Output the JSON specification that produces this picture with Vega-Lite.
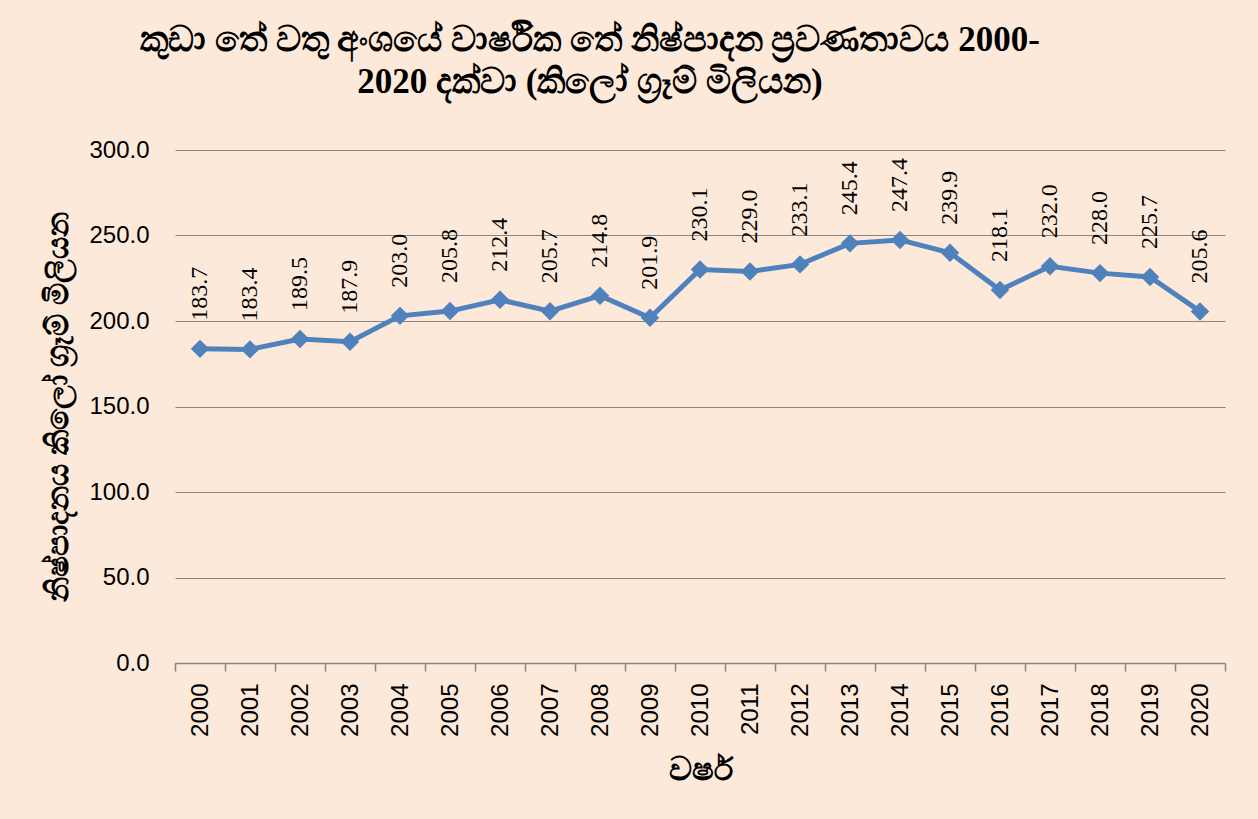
{
  "$schema": "https://vega.github.io/schema/vega-lite/v6.json",
  "autosize": {"type": "none"},
  "width": 1050,
  "height": 513,
  "padding": {"left": 175, "top": 150, "right": 33, "bottom": 156},
  "background": "#FDE9D9",
  "title": {
    "text": ["කුඩා තේ වතු අංශයේ  වාර්ෂික තේ නිෂ්පාදන ප්‍රවණතාවය 2000-", "2020 දක්වා (කිලෝ ග්‍රෑම් මිලියන)"],
    "font": "Liberation Serif",
    "fontSize": 35,
    "fontWeight": "bold",
    "color": "#000000",
    "anchor": "middle",
    "dx": -110,
    "offset": 38,
    "lineHeight": 42
  },
  "config": {
    "view": {"stroke": null},
    "axis": {"labelFont": "Liberation Sans", "labelColor": "#000000", "titleColor": "#000000"}
  },
  "data": {
    "values": [
      {"year": "2000", "value": 183.7},
      {"year": "2001", "value": 183.4},
      {"year": "2002", "value": 189.5},
      {"year": "2003", "value": 187.9},
      {"year": "2004", "value": 203.0},
      {"year": "2005", "value": 205.8},
      {"year": "2006", "value": 212.4},
      {"year": "2007", "value": 205.7},
      {"year": "2008", "value": 214.8},
      {"year": "2009", "value": 201.9},
      {"year": "2010", "value": 230.1},
      {"year": "2011", "value": 229.0},
      {"year": "2012", "value": 233.1},
      {"year": "2013", "value": 245.4},
      {"year": "2014", "value": 247.4},
      {"year": "2015", "value": 239.9},
      {"year": "2016", "value": 218.1},
      {"year": "2017", "value": 232.0},
      {"year": "2018", "value": 228.0},
      {"year": "2019", "value": 225.7},
      {"year": "2020", "value": 205.6}
    ]
  },
  "encoding": {
    "x": {
      "field": "year",
      "type": "ordinal",
      "bandPosition": 0.5,
      "scale": {"type": "band", "paddingInner": 0, "paddingOuter": 0},
      "axis": {
        "title": "වර්ෂ",
        "titleFont": "Liberation Sans",
        "titleFontSize": 32,
        "titleFontWeight": "bold",
        "titlePadding": 18,
        "labelAngle": -90,
        "labelFontSize": 24,
        "labelPadding": 12,
        "tickBand": "extent",
        "domainColor": "#868686",
        "domainWidth": 1.5,
        "tickColor": "#868686",
        "tickWidth": 1.5,
        "tickSize": 8,
        "grid": false
      }
    },
    "y": {
      "field": "value",
      "type": "quantitative",
      "scale": {"domain": [0, 300], "nice": false},
      "axis": {
        "title": "නිෂ්පාදනය කිලෝ ග්‍රෑම් මිලියන",
        "titleFont": "Liberation Sans",
        "titleFontSize": 31,
        "titleFontWeight": "bold",
        "titlePadding": 14,
        "values": [0, 50, 100, 150, 200, 250, 300],
        "format": ".1f",
        "labelFontSize": 24,
        "labelPadding": 26,
        "domain": false,
        "ticks": false,
        "grid": true,
        "gridColor": "#868686",
        "gridWidth": 1.2
      }
    }
  },
  "layer": [
    {
      "mark": {"type": "line", "color": "#4F81BD", "strokeWidth": 5}
    },
    {
      "mark": {"type": "point", "shape": "diamond", "filled": true, "color": "#4F81BD", "size": 340, "opacity": 1}
    },
    {
      "mark": {"type": "text", "angle": 270, "align": "left", "baseline": "middle", "yOffset": -28, "font": "Liberation Serif", "fontSize": 24, "color": "#000000"},
      "encoding": {"text": {"field": "value", "type": "quantitative", "format": ".1f"}}
    }
  ]
}
